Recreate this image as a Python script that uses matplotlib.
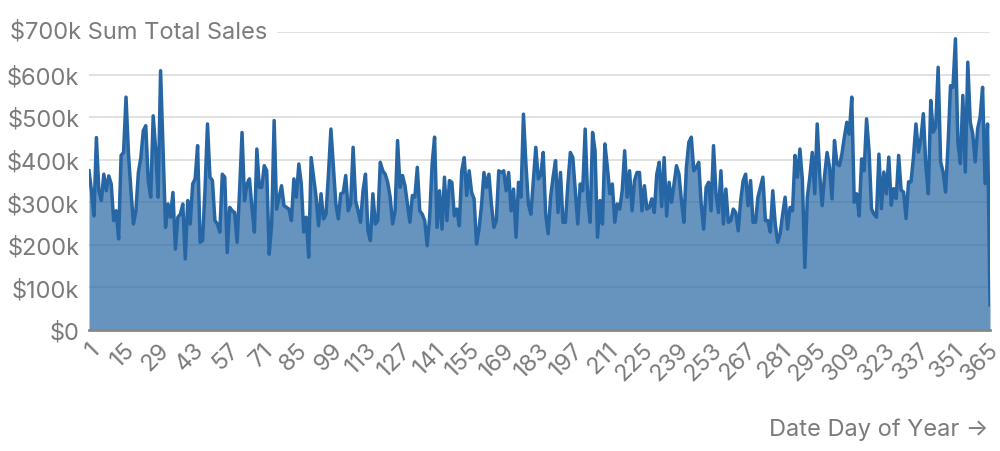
import matplotlib
matplotlib.use("Agg")
import matplotlib.pyplot as plt
from matplotlib.ticker import FuncFormatter

# Tagesumsatz in Tausend Dollar, Tag 1..366
umsatz_k = [
    374, 327, 268, 452, 327, 304, 366, 327, 362, 343, 257, 280, 214, 410, 417, 547,
    413, 327, 249, 280, 370, 405, 468, 480, 351, 312, 503, 425, 312, 609, 429, 241,
    296, 265, 323, 190, 265, 272, 296, 167, 304, 249, 343, 355, 433, 206, 210,
    330, 484, 359, 351, 257, 249, 230, 366, 359, 182, 288, 280, 276, 206, 327, 464,
    304, 343, 355, 288, 230, 425, 335, 335, 386, 374, 178, 249, 492, 284, 312, 339,
    292, 288, 284, 257, 355, 312, 390, 343, 230, 265, 171, 405, 359, 312, 245,
    320, 261, 272, 366, 472, 382, 296, 261, 320, 323, 363, 280, 296, 429, 304, 280,
    253, 327, 366, 233, 210, 320, 249, 257, 394, 374, 366, 347, 312, 249, 280, 445,
    335, 363, 339, 296, 253, 316, 312, 382, 280, 272, 257, 198, 265, 390, 453,
    241, 327, 237, 359, 257, 351, 347, 268, 284, 245, 374, 405, 316, 374, 323, 308,
    202, 237, 292, 370, 335, 366, 296, 241, 257, 374, 370, 374, 327, 370, 280, 331,
    218, 347, 312, 507, 390, 296, 272, 351, 429, 355, 363, 417, 272, 226,
    312, 359, 398, 276, 370, 253, 253, 343, 417, 405, 327, 249, 343, 327, 472, 312,
    253, 464, 421, 218, 304, 249, 437, 382, 320, 343, 253, 296, 284, 327, 421, 312,
    374, 280, 351, 370, 370, 280, 339, 284, 288, 308, 276, 366, 394, 290, 405,
    268, 347, 300, 343, 386, 366, 304, 253, 382, 441, 453, 374, 382, 394, 296, 237,
    335, 347, 280, 433, 320, 276, 374, 249, 331, 253, 257, 284, 276, 233, 304, 351,
    366, 292, 351, 253, 253, 312, 335, 359, 257, 257, 230, 327, 249, 206, 226,
    272, 312, 237, 288, 280, 410, 359, 425, 351, 147, 312, 359, 417, 320, 484, 366,
    292, 363, 417, 382, 308, 445, 390, 386, 413, 453, 488, 460, 547, 300, 320, 268,
    402, 374, 496, 421, 284, 272, 265, 413,
    285, 371, 320, 406, 293, 332, 309, 410, 328, 324, 262, 348, 348, 406, 484, 418,
    449, 508, 387, 320, 539, 465, 477, 617, 395, 371, 324, 434, 574, 570, 684, 441,
    391, 551, 371, 629, 488, 461, 395, 473, 500, 570, 344, 484, 59,
]
tage = list(range(1, len(umsatz_k) + 1))
umsatz = [v * 1000 for v in umsatz_k]

x_ticks = list(range(1, 366, 14))
y_ticks = [0, 100000, 200000, 300000, 400000, 500000, 600000]

plt.rcParams['font.family'] = ['Inter', 'DejaVu Sans']
grau = '#7b7b7b'
linie = '#2766a5'
schrift = 17

fig = plt.figure(figsize=(10, 4.52), dpi=100)
ax = fig.add_axes([0.089, 1 - 331 / 452, 0.901, (331 - 33) / 452])

# Gitterlinien
for y in y_ticks[1:]:
    ax.axhline(y, color='#dedede', lw=1.3, zorder=0)
ax.axhline(700000, xmin=(278 - 89) / 901, xmax=1, color='#dedede', lw=1.3, zorder=0)

ax.fill_between(tage, umsatz, 0, color=linie, alpha=0.7, lw=0, zorder=1)
ax.plot(tage, umsatz, color=linie, lw=2.5, zorder=2, solid_joinstyle='round')

ax.set_xlim(1, len(umsatz_k))
ax.set_ylim(0, 700000)

for s in ['top', 'right', 'left']:
    ax.spines[s].set_visible(False)
ax.spines['bottom'].set_color('#888888')
ax.spines['bottom'].set_linewidth(2)
ax.spines['bottom'].set_zorder(3)

ax.set_yticks(y_ticks)
ax.yaxis.set_major_formatter(FuncFormatter(lambda v, p: '$0' if v == 0 else f'${int(v / 1000)}k'))
ax.set_xticks(x_ticks)
ax.set_xticklabels([str(t) for t in x_ticks], rotation=45, ha='right', va='top',
                   rotation_mode='anchor')
ax.tick_params(axis='both', length=0, labelsize=schrift, colors=grau)
ax.tick_params(axis='y', pad=7)
ax.tick_params(axis='x', pad=6)

fig.text(0.010, 1 - 32 / 452, '$700k Sum Total Sales', fontsize=schrift, color=grau,
         ha='left', va='center')
fig.text(0.988, 1 - 430 / 452, 'Date Day of Year \u2192', fontsize=schrift, color=grau,
         ha='right', va='center')

fig.savefig('out.png', dpi=100)
